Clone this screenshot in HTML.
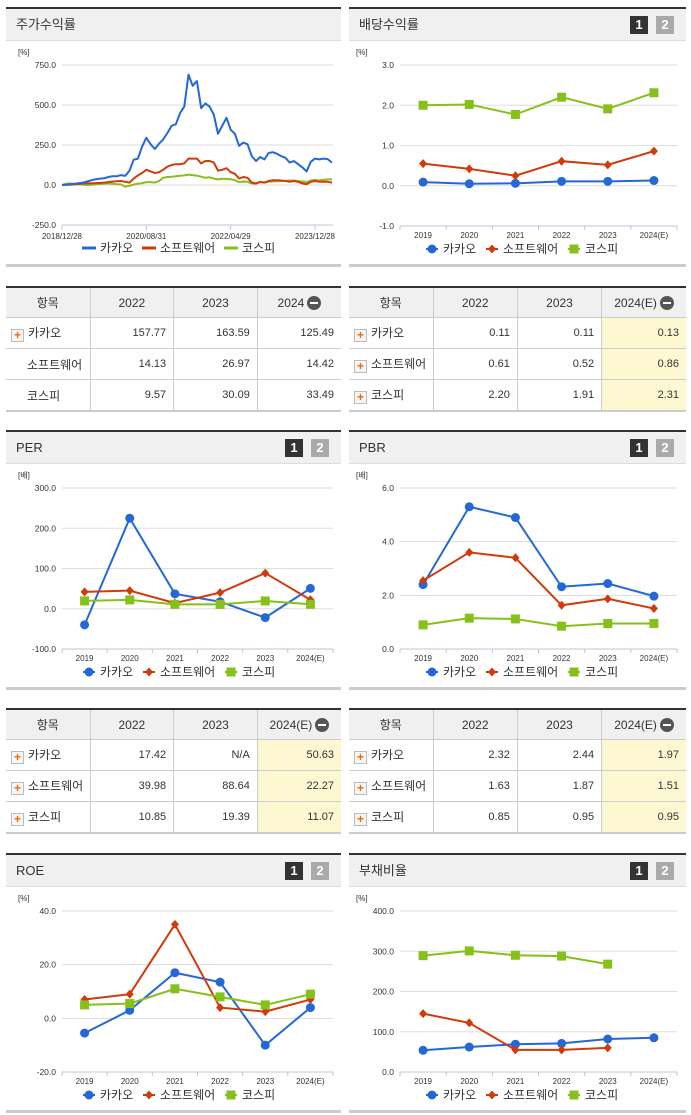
<!DOCTYPE html>
<html><head><meta charset="utf-8">
<style>
body{margin:0;width:691px;height:1115px;background:#fff;position:relative;overflow:hidden;font-family:"Liberation Sans","Noto Sans CJK KR",sans-serif;color:#333}
.panel{position:absolute;border-top:2px solid #333;box-sizing:border-box}
.hdr{height:31px;background:#f0f0f0;border-bottom:1px solid #ddd;font-size:13px;line-height:31px;padding-left:10px;position:relative}
.btn{position:absolute;top:7px;width:18px;height:18px;font-size:13px;font-weight:bold;color:#fff;text-align:center;line-height:18px}
.b1{right:38px;background:#333}.b2{right:12px;background:#aaa}
.foot{position:absolute;height:3px;background:#ccc}
table{position:absolute;border-collapse:collapse;font-size:12px;border-top:2px solid #333;border-bottom:2px solid #ccc;table-layout:fixed}
th{background:#f0f0f0;font-weight:normal;height:29px;padding:0;border:1px solid #ccc;border-top:none;white-space:nowrap}
td{height:30px;padding-top:0;padding-bottom:0;border:1px solid #ccc;text-align:right;padding-right:7px;font-size:11px;white-space:nowrap}
td.l{text-align:left;padding-left:5px;padding-right:0;font-size:12px;overflow:hidden}
th:first-child,td:first-child{border-left:none}th:last-child,td:last-child{border-right:none}
.hl{background:#fdf8d2}
.pl{display:inline-block;width:11px;height:11px;border:1px solid #bbb;background:#f6f6f6;color:#f26a00;font-size:12px;font-weight:bold;line-height:10px;text-align:center;vertical-align:-2px;margin-right:4px}
.mi{display:inline-block;width:14px;height:14px;border-radius:50%;background:#555;vertical-align:-3px;margin-left:3px;position:relative}
.mi:after{content:"";position:absolute;left:3px;top:6px;width:8px;height:2px;background:#fff}
</style></head><body>
<div class="panel" style="left:6px;top:7px;width:335px"><div class="hdr">주가수익률</div></div>
<div class="panel" style="left:349px;top:7px;width:337px"><div class="hdr">배당수익률<span class="btn b1">1</span><span class="btn b2">2</span></div></div>
<div class="panel" style="left:6px;top:430px;width:335px"><div class="hdr">PER<span class="btn b1">1</span><span class="btn b2">2</span></div></div>
<div class="panel" style="left:349px;top:430px;width:337px"><div class="hdr">PBR<span class="btn b1">1</span><span class="btn b2">2</span></div></div>
<div class="panel" style="left:6px;top:853px;width:335px"><div class="hdr">ROE<span class="btn b1">1</span><span class="btn b2">2</span></div></div>
<div class="panel" style="left:349px;top:853px;width:337px"><div class="hdr">부채비율<span class="btn b1">1</span><span class="btn b2">2</span></div></div>
<div class="foot" style="left:6px;top:264px;width:335px"></div><div class="foot" style="left:349px;top:264px;width:337px"></div>
<div class="foot" style="left:6px;top:687px;width:335px"></div><div class="foot" style="left:349px;top:687px;width:337px"></div>
<div class="foot" style="left:6px;top:1110px;width:335px"></div><div class="foot" style="left:349px;top:1110px;width:337px"></div>

<table style="left:6px;top:286px;width:335px"><colgroup><col style="width:84px"><col><col><col></colgroup>
<tr><th>항목</th><th>2022</th><th>2023</th><th>2024<span class="mi"></span></th></tr>
<tr><td class="l"><span class="pl">+</span>카카오</td><td>157.77</td><td>163.59</td><td>125.49</td></tr>
<tr><td class="l" style="padding-left:21px">소프트웨어</td><td>14.13</td><td>26.97</td><td>14.42</td></tr>
<tr><td class="l" style="padding-left:21px">코스피</td><td>9.57</td><td>30.09</td><td>33.49</td></tr></table>

<table style="left:349px;top:286px;width:337px"><colgroup><col style="width:84px"><col><col><col></colgroup>
<tr><th>항목</th><th>2022</th><th>2023</th><th>2024(E)<span class="mi"></span></th></tr>
<tr><td class="l"><span class="pl">+</span>카카오</td><td>0.11</td><td>0.11</td><td class="hl">0.13</td></tr>
<tr><td class="l"><span class="pl">+</span>소프트웨어</td><td>0.61</td><td>0.52</td><td class="hl">0.86</td></tr>
<tr><td class="l"><span class="pl">+</span>코스피</td><td>2.20</td><td>1.91</td><td class="hl">2.31</td></tr></table>

<table style="left:6px;top:708px;width:335px"><colgroup><col style="width:84px"><col><col><col></colgroup>
<tr><th>항목</th><th>2022</th><th>2023</th><th>2024(E)<span class="mi"></span></th></tr>
<tr><td class="l"><span class="pl">+</span>카카오</td><td>17.42</td><td>N/A</td><td class="hl">50.63</td></tr>
<tr><td class="l"><span class="pl">+</span>소프트웨어</td><td>39.98</td><td>88.64</td><td class="hl">22.27</td></tr>
<tr><td class="l"><span class="pl">+</span>코스피</td><td>10.85</td><td>19.39</td><td class="hl">11.07</td></tr></table>

<table style="left:349px;top:708px;width:337px"><colgroup><col style="width:84px"><col><col><col></colgroup>
<tr><th>항목</th><th>2022</th><th>2023</th><th>2024(E)<span class="mi"></span></th></tr>
<tr><td class="l"><span class="pl">+</span>카카오</td><td>2.32</td><td>2.44</td><td class="hl">1.97</td></tr>
<tr><td class="l"><span class="pl">+</span>소프트웨어</td><td>1.63</td><td>1.87</td><td class="hl">1.51</td></tr>
<tr><td class="l"><span class="pl">+</span>코스피</td><td>0.85</td><td>0.95</td><td class="hl">0.95</td></tr></table>

<svg id="charts" width="691" height="1115" style="position:absolute;left:0;top:0"></svg>
<script>
const years = ["2019","2020","2021","2022","2023","2024(E)"];
const seriesNames = ["카카오","소프트웨어","코스피"];
// stock return (monthly, %)
const priceDates = ["2018/12/28","2020/08/31","2022/04/29","2023/12/28"];
const kakaoRet = [0,2,5,8,12,15,22,30,36,40,42,50,55,55,62,57,90,158,165,240,295,255,225,258,285,325,370,380,450,490,690,620,650,480,510,490,440,320,370,420,345,320,245,265,255,180,150,175,160,200,205,195,180,170,140,150,130,110,85,145,165,160,165,162,140];
const softRet = [0,1,2,4,6,10,10,11,12,13,15,18,22,24,25,20,15,40,60,75,95,85,75,80,95,115,125,130,130,135,165,165,165,135,150,150,140,90,95,105,80,70,40,50,45,15,10,20,15,25,30,30,28,25,20,25,20,10,5,20,25,20,20,20,15];
const kospiRet = [0,8,10,6,5,2,0,2,4,6,8,10,8,5,3,-10,-5,3,8,12,18,18,15,25,45,50,52,55,58,60,65,62,58,52,45,48,40,35,38,38,36,30,18,22,20,10,8,18,15,20,22,24,25,26,28,28,25,22,18,28,32,28,32,35,35];
const retTicks = [750,500,250,0,-250];
// dividend yield
const divKakao=[0.09,0.05,0.06,0.11,0.11,0.13];
const divSoft=[0.55,0.42,0.25,0.61,0.52,0.86];
const divKospi=[2.00,2.02,1.77,2.20,1.91,2.31];
const divTicks=[3.0,2.0,1.0,0.0,-1.0];
// PER
const perKakao=[-40,225,37,17.42,-22,50.63];
const perSoft=[42,45,14,39.98,88.64,22.27];
const perKospi=[19.5,22,11,10.85,19.39,11.07];
const perTicks=[300,200,100,0,-100];
// PBR
const pbrKakao=[2.4,5.3,4.9,2.32,2.44,1.97];
const pbrSoft=[2.55,3.6,3.4,1.63,1.87,1.51];
const pbrKospi=[0.9,1.15,1.12,0.85,0.95,0.95];
const pbrTicks=[6.0,4.0,2.0,0.0];
// ROE
const roeKakao=[-5.5,3,17,13.5,-10,4];
const roeSoft=[7,9,35,4,2.5,7];
const roeKospi=[5,5.5,11,8,5,9];
const roeTicks=[40,20,0,-20];
// Debt ratio
const debtKakao=[54,62,69,71,82,85];
const debtSoft=[145,122,55,55,60,null];
const debtKospi=[289,301,290,288,268,null];
const debtTicks=[400,300,200,100,0];

const COLORS=["#2468d8","#d23a0a","#86c01a"];
const svg=document.getElementById('charts');
const NS="http://www.w3.org/2000/svg";
function el(tag,attrs,parent){const e=document.createElementNS(NS,tag);for(const k in attrs)e.setAttribute(k,attrs[k]);(parent||svg).appendChild(e);return e;}
function txt(x,y,s,size,anchor,fill,parent){const t=el('text',{x:x,y:y,'font-size':size,'text-anchor':anchor||'start',fill:fill||'#333','font-family':'"Liberation Sans","Noto Sans CJK KR",sans-serif'},parent);t.textContent=s;return t;}

function axesY(g,ticks,x0,x1,top,bot,unit){
  const max=ticks[0],min=ticks[ticks.length-1];
  const ys=v=>top+(max-v)/(max-min)*(bot-top);
  txt(x0-44,top-10,unit,8,'start','#333',g);
  ticks.forEach(t=>{const y=ys(t);
    const ln=el('line',{x1:x0,x2:x1,y1:y,y2:y,stroke:'#ddd','stroke-width':1},g);
    
    
    const lb=txt(x0-6,y+3,t.toFixed(1),8.5,'end','#333',g);
    
    
  });
  return ys;
}
function marker(g,i,x,y){
  let m;
  if(i===0)m=el('circle',{cx:x,cy:y,r:4.5,fill:COLORS[0]},g);
  else if(i===1)m=el('path',{d:`M${x} ${y-4.5}L${x+4} ${y}L${x} ${y+4.5}L${x-4} ${y}Z`,fill:COLORS[1]},g);
  else m=el('rect',{x:x-4.5,y:y-4.5,width:9,height:9,fill:COLORS[2]},g);
  return m;
}
function legend(g,px,ly,lineStyle){
  const offs=[82,142,224];
  seriesNames.forEach((n,i)=>{
    const x=px+offs[i];
    if(lineStyle){el('line',{x1:x-6,x2:x+8,y1:ly-4,y2:ly-4,stroke:COLORS[i],'stroke-width':3},g);}
    else{el('line',{x1:x-5,x2:x+7,y1:ly-4,y2:ly-4,stroke:COLORS[i],'stroke-width':2},g);marker(g,i,x+1,ly-4);}
    const t=txt(x+12,ly,n,12,'start','#333',g);
    
    
  });
}
function catChart(name,px,x0,x1,T,ticks,unit,series){
  const g=el('g',{});
  
  
  const top=T+58,bot=T+219;
  const ys=axesY(g,ticks,x0,x1,top,bot,unit);
  const bw=(x1-x0)/years.length;
  const xs=i=>x0+(i+0.5)*bw;
  el('line',{x1:x0,x2:x1,y1:bot,y2:bot,stroke:'#b9c7d8','stroke-width':1},g);
  for(let i=0;i<=years.length;i++)el('line',{x1:x0+i*bw,x2:x0+i*bw,y1:bot,y2:bot+4,stroke:'#b9c7d8'},g);
  years.forEach((y,i)=>{const t=txt(xs(i),bot+12,y,8,'middle','#333',g);
    
    });
  series.forEach((arr,si)=>{
    let d='';arr.forEach((v,i)=>{if(v==null)return;d+=(d?'L':'M')+xs(i)+' '+ys(v);});
    const p=el('path',{d:d,fill:'none',stroke:COLORS[si],'stroke-width':2},g);
    
    
    arr.forEach((v,i)=>{if(v==null)return;const m=marker(g,si,xs(i),ys(v));
      
      });
  });
  legend(g,px,T+246,false);
}
// stock return chart
(function(){
  const g=el('g',{});
  
  
  const T=7,x0=62,x1=333,top=T+58,bot=T+218;
  const ys=axesY(g,retTicks,x0,x1,top,bot,'[%]');
  const monthPx=(315-62)/60;
  const xs=i=>x0+i*monthPx;
  el('line',{x1:x0,x2:x1,y1:bot,y2:bot,stroke:'#b9c7d8'},g);
  priceDates.forEach((d,k)=>{const x=x0+k*20*monthPx;
    el('line',{x1:x,x2:x,y1:bot,y2:bot+5,stroke:'#b9c7d8'},g);
    const t=txt(x,bot+14,d,8,'middle','#333',g);
    
    });
  [kospiRet,softRet,kakaoRet].forEach((arr,k)=>{const si=2-k;
    let d='';arr.forEach((v,i)=>{d+=(i?'L':'M')+xs(i).toFixed(1)+' '+ys(v).toFixed(1);});
    const p=el('path',{d:d,fill:'none',stroke:COLORS[si],'stroke-width':2,'stroke-linejoin':'round'},g);
    
    
  });
  legend(g,6,T+245,true);
})();
catChart('dividend-chart',349,400,677,7,divTicks,'[%]',[divKakao,divSoft,divKospi]);
catChart('per-chart',6,62,333,430,perTicks,'[배]',[perKakao,perSoft,perKospi]);
catChart('pbr-chart',349,400,677,430,pbrTicks,'[배]',[pbrKakao,pbrSoft,pbrKospi]);
catChart('roe-chart',6,62,333,853,roeTicks,'[%]',[roeKakao,roeSoft,roeKospi]);
catChart('debt-chart',349,400,677,853,debtTicks,'[%]',[debtKakao,debtSoft,debtKospi]);
</script>
</body></html>
